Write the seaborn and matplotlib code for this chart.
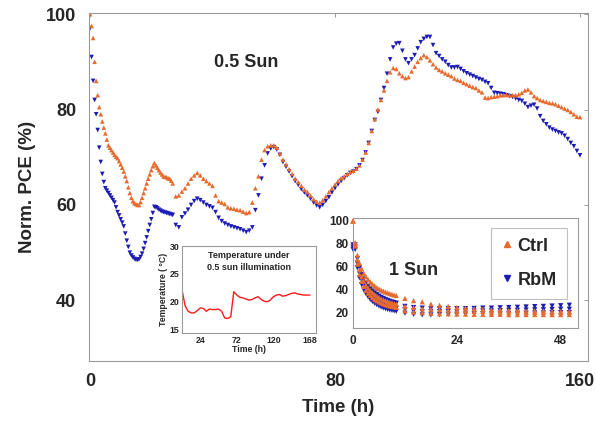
import numpy as np
import pandas as pd
import matplotlib
matplotlib.use("Agg")
import matplotlib.pyplot as plt
from matplotlib.lines import Line2D
import seaborn as sns

# ---------------- data ----------------
time_early = np.arange(0, 28.5, 0.5)      # 0 .. 28 h, every 0.5 h
time_late = np.arange(29, 161, 1)         # 29 .. 160 h, every 1 h

ctrl_early = [
    100, 97.5, 95, 90, 86, 83, 80.5, 79, 77.5, 76.2,
    75, 73.7, 72.5, 72, 71.5, 71, 70.5, 70.1, 69.8, 69.2,
    68.5, 67.8, 67, 66, 65, 63.7, 62.5, 61.5, 60.8, 60.4,
    60.2, 60, 60, 60.6, 61.5, 62.5, 63.5, 64.5, 65.5, 66.4,
    67.3, 68.1, 68.8, 68.3, 67.8, 67.3, 66.8, 66.4, 66, 65.9,
    65.8, 65.6, 65.5, 65.1, 64.5, np.nan, 61.8,
]
rbm_early = [
    97, 91, 86, 82, 79, 75.7, 72, 69, 66.5, 64.8,
    63.5, 63, 62.5, 62, 61.5, 61, 60.5, 59.5, 58.5, 57.8,
    57, 56.3, 55.5, 54, 52.5, 51.2, 50, 49.4, 49, 48.7,
    48.5, 48.5, 48.6, 49.1, 49.8, 50.8, 52, 53.2, 54.5, 55.8,
    57, 58.3, 59.6, 59.5, 59.3, 59, 58.8, 58.6, 58.5, 58.4,
    58.3, 58.2, 58.1, 58, 57.9, np.nan, 55.8,
]
ctrl_late = [
    62,
    62.8, 63.5, 64.5, 65.5, 66.2, 66.7, 66.2, 65.5, 65, 64.5,
    64, 62, 60.8, 60.5, 60.2, 59.5, 59.3, 59.2, 59, 58.9,
    58.6, 58.3, 58.5, 60.5, 63.5, 66, 69.5, 71.5, 72.3, 72.5,
    72.5, 72, 70.8, 69.5, 68.5, 67.5, 66.5, 65.5, 64.8, 64,
    63.2, 62.7, 62, 61.2, 60.7, 60.5, 61, 61.8, 62.7, 63.5,
    64.3, 65, 65.6, 66, 66.5, 66.9, 67.2, 67.6, 68.3, 69.5,
    71, 73, 75.5, 78, 80, 82, 84, 86, 87.8, 88.7,
    88.5, 87.6, 87, 86.6, 86.8, 88, 89, 90, 90.8, 91.4,
    91, 90.3, 89.5, 88.8, 88.3, 88, 87.6, 87.3, 87, 86.5,
    86.2, 86, 85.6, 85.3, 85, 84.7, 84.5, 84, 83.6, 82.5,
    82.4, 82.6, 82.7, 82.8, 83, 83, 83.1, 83, 83, 83,
    83.2, 83.5, 84, 84.2, 83.6, 82.8, 82.4, 82, 81.8, 81.6,
    81.4, 81.3, 81.1, 80.8, 80.5, 80.2, 79.9, 79.5, 79, 78.5,
    78.4,
]
rbm_late = [
    55.3,
    57.4, 58.2, 59, 60, 60.8, 61.3, 61, 60.5, 60, 59.7,
    59.4, 58.5, 57.3, 56.6, 56.1, 55.8, 55.5, 55.3, 55.1, 54.9,
    54.6, 54.3, 54.6, 55.3, 58.9, 62, 65.5, 68.3, 70.8, 71.8,
    72.1, 71.6, 70.5, 69, 68, 67, 66, 65, 64.2, 63.3,
    62.6, 62, 61.3, 60.5, 59.9, 59.5, 60, 60.8, 61.6, 62.6,
    63.5, 64.3, 65, 65.6, 66.2, 66.7, 67, 67.5, 68.3, 69.4,
    71, 73, 75.5, 77.8, 79.5, 82, 84.5, 87.5, 90.5, 93,
    93.8, 93.9, 92.3, 90.5, 89.7, 90.5, 91.4, 92.8, 94.1, 94.8,
    95.2, 95.2, 93.5, 91.8, 91.2, 90.5, 90, 89.3, 88.8, 88.8,
    88.9, 88.5, 88, 87.6, 87.3, 87, 86.7, 86.4, 86.2, 85.8,
    85.5, 84.5, 83.5, 83.4, 83.3, 83.2, 83, 82.8, 82.6, 82.3,
    82, 81.8, 81.2, 80.5, 80.8, 81, 80.2, 78.6, 77.6, 76.9,
    76.2, 75.8, 75.5, 75.2, 75, 74.5, 73.8, 73, 72.3, 71.3,
    70.4,
]

# temperature inset
time_temp = [0, 4, 8, 12, 16, 20, 24, 28, 32, 36, 40, 44, 48, 52, 56, 60, 64,
             68, 72, 76, 80, 84, 88, 92, 96, 100, 104, 108, 112, 116, 120, 124,
             128, 132, 136, 140, 144, 148, 152, 156, 160, 164, 168]
temperature = [22.1, 19.3, 18.3, 18.0, 18.0, 18.4, 18.9, 18.8, 18.3, 18.7, 18.6,
               18.6, 18.7, 18.3, 17.1, 17.0, 17.3, 21.8, 21.2, 20.8, 20.7, 20.5,
               20.3, 20.4, 20.7, 20.9, 20.4, 20.1, 20.0, 20.3, 20.9, 21.2, 21.3,
               21.0, 21.1, 21.3, 21.5, 21.6, 21.4, 21.3, 21.2, 21.2, 21.2]

# 1 sun inset (three devices per group)
time_dense = [0, 0.5, 1, 1.5, 2, 2.5, 3, 3.5, 4, 4.5, 5, 5.5, 6, 6.5, 7, 7.5,
              8, 8.5, 9, 9.5, 10]
time_sparse = [12, 14, 16, 18, 20, 22, 24, 26, 28, 30, 32, 34, 36, 38, 40, 42,
               44, 46, 48, 50]
ctrl1_dense = [100, 81, 70, 63, 58, 54, 51, 48.5, 46.5, 44.5, 43, 41.5, 40.3,
               39.3, 38.4, 37.6, 36.9, 36.2, 35.6, 35, 34.5]
ctrl2_dense = [100, 80, 66, 57, 51, 47, 43.5, 41, 38.8, 37, 35.4, 34, 32.8,
               31.7, 30.8, 30, 29.3, 28.6, 28, 27.5, 27]
ctrl3_dense = [100, 78, 62, 53, 47, 42.5, 39, 36.5, 34.5, 32.7, 31.2, 30, 28.9,
               28, 27.2, 26.5, 25.9, 25.4, 24.9, 24.5, 24.1]
rbm1_dense = [79, 79, 67, 59, 53, 49, 45.5, 42.7, 40.4, 38.5, 36.8, 35.3, 34,
              32.9, 31.9, 31, 30.2, 29.5, 28.9, 28.3, 27.8]
rbm2_dense = [77, 77, 63, 54, 48, 43.5, 40, 37.3, 35, 33, 31.4, 30, 28.8, 27.8,
              26.9, 26.1, 25.4, 24.8, 24.3, 23.8, 23.4]
rbm3_dense = [75, 75, 59, 50, 44, 39.5, 36, 33.3, 31, 29.2, 27.7, 26.4, 25.3,
              24.4, 23.6, 22.9, 22.3, 21.8, 21.4, 21, 20.7]
ctrl1_sparse = [32, 30, 29, 27, 26, 25, 24, 23.5, 23, 22.5, 22, 22, 21.5, 21.5,
                21, 21, 21, 20.5, 20.5, 20.5]
ctrl2_sparse = [25, 24, 23, 22.5, 22, 21.5, 21, 21, 20.5, 20.5, 20, 20, 20, 20,
                19.8, 19.8, 19.8, 19.8, 19.8, 19.8]
ctrl3_sparse = [21, 20, 19.5, 19, 18.5, 18.5, 18.2, 18.2, 18, 18, 18, 18, 17.8,
                17.8, 17.8, 17.8, 17.8, 17.8, 17.8, 17.8]
rbm1_sparse = [25, 24, 23.5, 23, 23, 23, 23, 23, 23.2, 23.5, 23.5, 23.8, 24,
               24.2, 24.5, 24.8, 25, 25.3, 25.6, 26]
rbm2_sparse = [22, 21, 20.5, 20.5, 20.5, 20.5, 20.5, 21, 21, 21, 21, 21.2, 21.5,
               21.5, 21.8, 22, 22, 22.2, 22.5, 22.5]
rbm3_sparse = [19, 18, 17.5, 17.5, 17.8, 18, 18, 18.2, 18.5, 18.5, 18.5, 18.8,
               18.8, 19, 19, 19.2, 19.2, 19.5, 19.5, 19.5]

main_xticks = [0, 80, 160]
main_yticks = [40, 60, 80, 100]
temp_xticks = [24, 72, 120, 168]
temp_yticks = [15, 20, 25, 30]
sun_xticks = [0, 24, 48]
sun_yticks = [20, 40, 60, 80, 100]

# ---------------- style ----------------
sns.set_style("white")
plt.rcParams['font.family'] = ['Liberation Sans', 'DejaVu Sans']
plt.rcParams['font.weight'] = 'bold'

ORANGE = "#E8692C"
BLUE = "#1C1CB4"
GRAY = "#9a9a9a"
palette = {"Ctrl": ORANGE, "RbM": BLUE}
markers = {"Ctrl": "^", "RbM": "v"}

fig = plt.figure(figsize=(5.96, 4.23), dpi=100)


def style_box(ax, size, pad, length=3):
    for s in ax.spines.values():
        s.set_visible(True)
        s.set_color(GRAY)
        s.set_linewidth(0.8)
    ax.tick_params(direction='in', length=length, width=0.7, color=GRAY,
                   top=True, right=True, labelsize=size, pad=pad)
    for lab in ax.get_xticklabels() + ax.get_yticklabels():
        lab.set_fontweight('bold')


# ---------------- main axes ----------------
ax = fig.add_axes([0.149, 0.1466, 0.838, 0.8224])
t_all = np.concatenate([time_early, time_late])
df_main = pd.DataFrame({
    "t": np.concatenate([t_all, t_all]),
    "v": np.concatenate([rbm_early, rbm_late, ctrl_early, ctrl_late]),
    "grp": ["RbM"] * len(t_all) + ["Ctrl"] * len(t_all),
})
sns.scatterplot(data=df_main, x="t", y="v", hue="grp", style="grp",
                palette=palette, markers=markers, s=11, linewidth=0,
                legend=False, ax=ax)
ax.set_xlim(-0.4, 162.7)
ax.set_ylim(27.3, 100.2)
ax.set_xticks(main_xticks)
ax.set_yticks(main_yticks)
style_box(ax, 13, 9)
ax.tick_params(axis='x', pad=9)
ax.set_xlabel("Time (h)", fontsize=13.5, fontweight='bold', labelpad=6)
ax.set_ylabel("Norm. PCE (%)", fontsize=13.5, fontweight='bold', labelpad=7)
ax.text(0.315, 0.857, "0.5 Sun", transform=ax.transAxes, fontsize=13,
        fontweight='bold', ha='center', va='center')

# ---------------- temperature inset ----------------
axT = fig.add_axes([0.3054, 0.2128, 0.2248, 0.2056])
sns.lineplot(x=time_temp, y=temperature, color="#FF1A1A", lw=1.0, ax=axT)
axT.set_xlim(0, 176)
axT.set_ylim(14.4, 30)
axT.set_xticks(temp_xticks)
axT.set_yticks(temp_yticks)
style_box(axT, 6.3, 2, length=2)
axT.tick_params(top=False, right=False)
axT.set_xlabel("Time (h)", fontsize=6.3, fontweight='bold', labelpad=0)
axT.set_ylabel("Temperature ( °C)", fontsize=6.3, fontweight='bold', labelpad=1)
axT.text(0.5, 0.82, "Temperature under\n0.5 sun illumination",
         transform=axT.transAxes, fontsize=6.5, fontweight='bold',
         ha='center', va='center', linespacing=1.5)

# ---------------- 1 sun inset ----------------
axS = fig.add_axes([0.5923, 0.2246, 0.3775, 0.26])
rows = []
for grp, dense_list, sparse_list in [
        ("RbM", [rbm1_dense, rbm2_dense, rbm3_dense],
         [rbm1_sparse, rbm2_sparse, rbm3_sparse]),
        ("Ctrl", [ctrl1_dense, ctrl2_dense, ctrl3_dense],
         [ctrl1_sparse, ctrl2_sparse, ctrl3_sparse])]:
    for d, sp in zip(dense_list, sparse_list):
        for t, v in zip(time_dense + time_sparse, d + sp):
            rows.append((t, v, grp))
df_sun = pd.DataFrame(rows, columns=["t", "v", "grp"])
sns.scatterplot(data=df_sun, x="t", y="v", hue="grp", style="grp",
                palette=palette, markers=markers, s=14, linewidth=0,
                legend=False, ax=axS, clip_on=False)
axS.set_xlim(0, 52)
axS.set_ylim(6, 102.6)
axS.set_xticks(sun_xticks)
axS.set_yticks(sun_yticks)
style_box(axS, 8.5, 3, length=2.5)
axS.tick_params(top=False, right=False)
axS.tick_params(axis='x', pad=5)
axS.set_xlabel("")
axS.set_ylabel("")
axS.text(0.27, 0.52, "1 Sun", transform=axS.transAxes, fontsize=13,
         fontweight='bold', ha='center', va='center')
handles = [Line2D([], [], ls='none', marker='^', color=ORANGE, markersize=4),
           Line2D([], [], ls='none', marker='v', color=BLUE, markersize=4)]
leg = axS.legend(handles, ["Ctrl", "RbM"], loc='upper right',
                 bbox_to_anchor=(0.99, 0.995), frameon=True, fancybox=False,
                 prop={'size': 13, 'weight': 'bold'}, handlelength=0.6,
                 handletextpad=0.3, labelspacing=0.95, borderpad=0.55)
leg.get_frame().set_edgecolor("#b0b0b0")
leg.get_frame().set_linewidth(0.8)

fig.savefig("out.png", dpi=100)
